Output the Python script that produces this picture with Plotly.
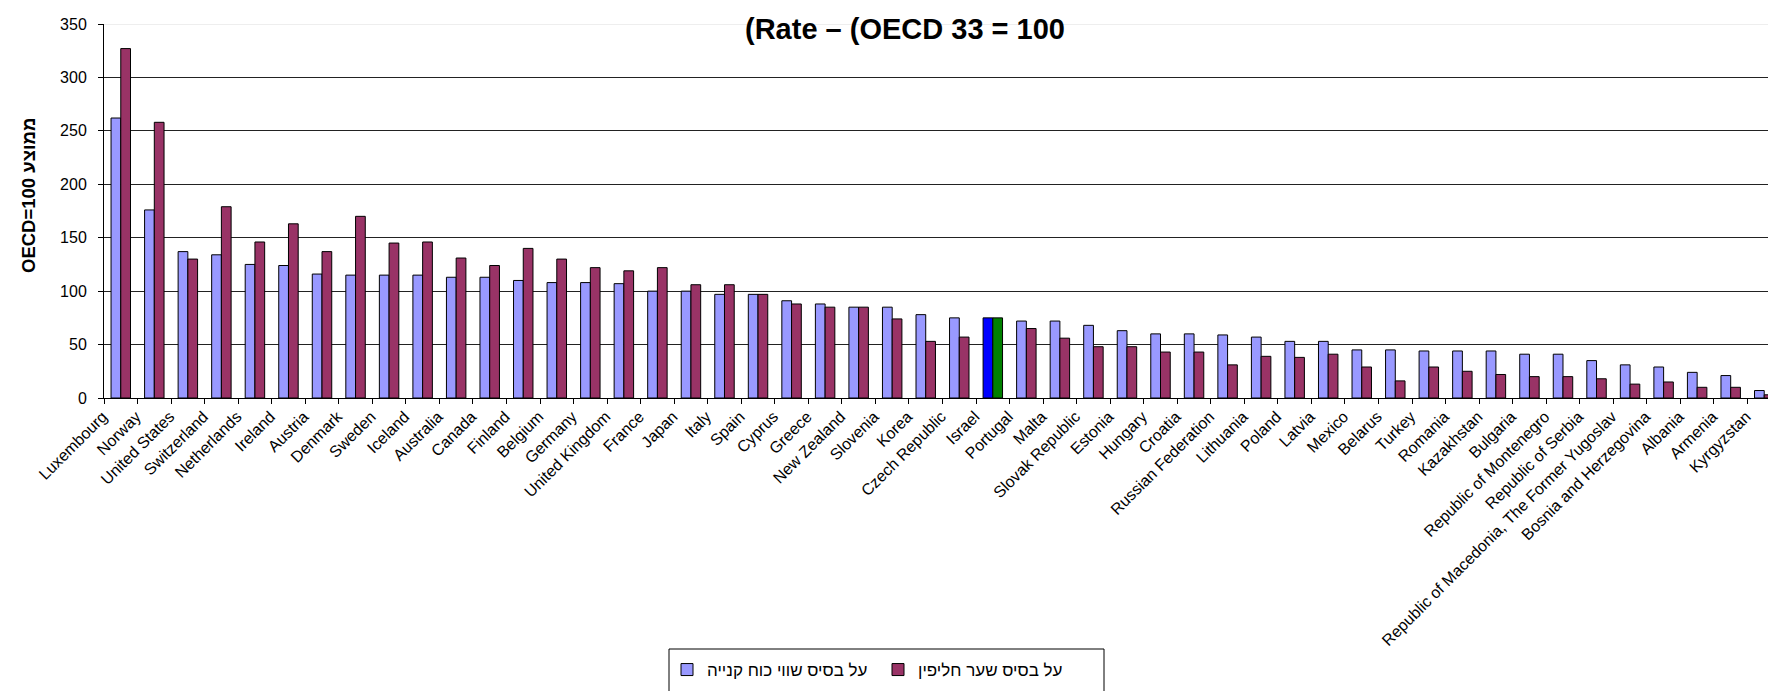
import plotly.graph_objects as go

countries = ["Luxembourg", "Norway", "United States", "Switzerland", "Netherlands", "Ireland",
             "Austria", "Denmark", "Sweden", "Iceland", "Australia", "Canada", "Finland",
             "Belgium", "Germany", "United Kingdom", "France", "Japan", "Italy", "Spain",
             "Cyprus", "Greece", "New Zealand", "Slovenia", "Korea", "Czech Republic", "Israel",
             "Portugal", "Malta", "Slovak Republic", "Estonia", "Hungary", "Croatia",
             "Russian Federation", "Lithuania", "Poland", "Latvia", "Mexico", "Belarus", "Turkey",
             "Romania", "Kazakhstan", "Bulgaria", "Republic of Montenegro", "Republic of Serbia",
             "Republic of Macedonia, The Former Yugoslav", "Bosnia and Herzegovina", "Albania",
             "Armenia", "Kyrgyzstan"]

ppp_values = [262, 176, 137, 134, 125, 124, 116, 115, 115, 115, 113, 113, 110, 108, 108,
              107, 100, 100, 97, 97, 91, 88, 85, 85, 78, 75, 75, 72, 72, 68, 63, 60, 60,
              59, 57, 53, 53, 45, 45, 44, 44, 44, 41, 41, 35, 31, 29, 24, 21, 7]

fx_values = [327, 258, 130, 179, 146, 163, 137, 170, 145, 146, 131, 124, 140, 130, 122,
             119, 122, 106, 106, 97, 88, 85, 85, 74, 53, 57, 75, 65, 56, 48, 48, 43, 43,
             31, 39, 38, 41, 29, 16, 29, 25, 22, 20, 20, 18, 13, 15, 10, 10, 3]

series_names = ["על בסיס שווי כוח קנייה", "על בסיס שער חליפין"]
y_ticks = [0, 50, 100, 150, 200, 250, 300, 350]

highlight = "Israel"
ppp_colors = ["#0000FF" if c == highlight else "#9999FF" for c in countries]
fx_colors = ["#008000" if c == highlight else "#993366" for c in countries]

W, H = 1776, 691
ML, MR, MT, MB = 96, 3, 16, 301
pw, ph = W - ML - MR, H - MT - MB


def px_x(x):
    return (x - ML) / pw


def px_y(y):
    return (H - MB - y) / ph


fig = go.Figure()
fig.add_trace(go.Bar(x=countries, y=ppp_values, name=series_names[0],
                     marker=dict(color=ppp_colors, line=dict(color="black", width=1))))
fig.add_trace(go.Bar(x=countries, y=fx_values, name=series_names[1],
                     marker=dict(color=fx_colors, line=dict(color="black", width=1))))

fig.update_layout(
    width=W, height=H,
    paper_bgcolor="white", plot_bgcolor="white",
    margin=dict(l=ML, r=MR, t=MT, b=MB, autoexpand=False),
    barmode="group", bargap=0.42, bargroupgap=0,
    font=dict(family="Liberation Sans, Arial, sans-serif", color="black"),
    title=dict(text="<b>(Rate – (OECD 33 = 100</b>", xref="container", x=897 / W,
               xanchor="center", yref="container", y=1 - 21 / H, yanchor="middle",
               font=dict(size=29, color="black")),
    showlegend=True,
    legend=dict(orientation="h", xref="container", yref="container",
                x=659 / W, xanchor="left", y=1 - 662 / H, yanchor="middle",
                borderwidth=0, bgcolor="rgba(0,0,0,0)",
                font=dict(size=17), entrywidth=166, tracegroupgap=0),
    shapes=[
        dict(type="rect", xref="paper", yref="paper",
             x0=px_x(661), x1=px_x(1096), y0=px_y(641), y1=px_y(705),
             line=dict(color="black", width=1), fillcolor="rgba(0,0,0,0)", layer="below"),
        dict(type="line", xref="paper", yref="y", x0=0, x1=1, y0=350, y1=350,
             line=dict(color="#dddddd", width=1), layer="above"),
    ],
    annotations=[
        dict(text="<b>OECD=100 ממוצע</b>", xref="paper", yref="paper",
             x=px_x(21), y=px_y(188), xanchor="center", yanchor="middle",
             textangle=-90, showarrow=False, font=dict(size=18.5, color="black")),
    ],
)

fig.update_yaxes(range=[0, 350], tickvals=y_ticks, showgrid=True, gridcolor="#222222",
                 gridwidth=1, showline=True, linecolor="black", linewidth=1,
                 ticks="outside", ticklen=5, tickcolor="black", automargin=False,
                 tickfont=dict(size=16), zeroline=False, ticklabelstandoff=8)
fig.update_xaxes(showline=True, linecolor="black", linewidth=1, tickangle=-45,
                 ticks="outside", ticklen=5, tickcolor="black", tickson="boundaries",
                 tickfont=dict(size=16), showgrid=False, automargin=False,
                 ticklabelshift=-18, ticklabelstandoff=2)

fig.write_html("out.html")
